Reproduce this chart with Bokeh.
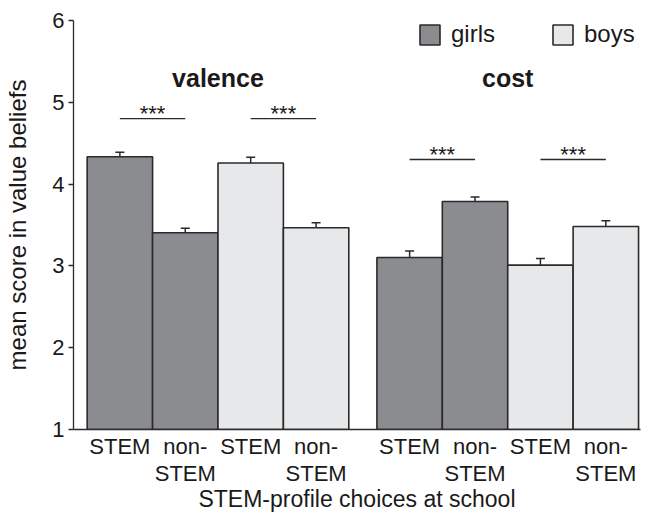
from bokeh.plotting import figure
from bokeh.models import (FixedTicker, Whisker, TeeHead, ColumnDataSource, Legend,
                          LegendItem, Range1d)
from bokeh.core.properties import value
from bokeh.embed import file_html
from bokeh.resources import INLINE

# ---------------- data ----------------
groups = ["valence", "cost"]
genders = ["girls", "boys"]
choices = ["STEM", "non-STEM"]
choice_tick_labels = ["STEM", "non-\nSTEM"]

girls_valence = [4.335, 3.405]
boys_valence = [4.258, 3.466]
girls_cost = [3.103, 3.788]
boys_cost = [3.010, 3.482]

girls_valence_err = [0.053, 0.055]
boys_valence_err = [0.069, 0.063]
girls_cost_err = [0.078, 0.055]
boys_cost_err = [0.080, 0.069]

sig_height = [4.80, 4.30]      # height of significance bracket in each group
sig_label = ["***", "***"]

y_ticks = [1, 2, 3, 4, 5, 6]
y_axis_label = "mean score in value beliefs"
x_axis_label = "STEM-profile choices at school"

# ---------------- layout constants ----------------
FONT = "Liberation Sans"
BAR_W = 1.0
GROUP_GAP = 0.43
TITLE_Y = 5.30
Y_MIN, Y_MAX = 1, 6
GIRLS_FILL = "#8b8c90"
BOYS_FILL = "#e7e8ea"
EDGE = "#2a2a2a"
TEXT = "#1a1a1a"

means = {("valence", "girls"): girls_valence, ("valence", "boys"): boys_valence,
         ("cost", "girls"): girls_cost, ("cost", "boys"): boys_cost}
errs = {("valence", "girls"): girls_valence_err, ("valence", "boys"): boys_valence_err,
        ("cost", "girls"): girls_cost_err, ("cost", "boys"): boys_cost_err}

per_group = len(genders) * len(choices)
src_data = {g: {"x": [], "top": [], "upper": [], "lower": []} for g in genders}
tick_pos, tick_lab = [], []
group_center = []
sig_x0, sig_x1, sig_y, sig_mid, sig_txt = [], [], [], [], []
for gi, grp in enumerate(groups):
    base = gi * (per_group * BAR_W + GROUP_GAP)
    group_center.append(base + per_group * BAR_W / 2)
    for si, sex in enumerate(genders):
        xs = []
        for ci, ch in enumerate(choices):
            x = round(base + (si * len(choices) + ci + 0.5) * BAR_W, 4)
            m = means[(grp, sex)][ci]
            e = errs[(grp, sex)][ci]
            d = src_data[sex]
            d["x"].append(x)
            d["top"].append(m)
            d["upper"].append(m + e)
            d["lower"].append(m - e)
            tick_pos.append(x)
            tick_lab.append(choice_tick_labels[ci])
            xs.append(x)
        sig_x0.append(xs[0]); sig_x1.append(xs[-1])
        sig_y.append(sig_height[gi]); sig_mid.append((xs[0] + xs[-1]) / 2)
        sig_txt.append(sig_label[gi])

x_end = len(groups) * per_group * BAR_W + (len(groups) - 1) * GROUP_GAP

p = figure(width=648, height=515, output_backend="svg", toolbar_location=None,
           x_range=Range1d(-0.209, x_end + 0.03), y_range=Range1d(Y_MIN, Y_MAX),
           min_border_left=73, min_border_right=8, min_border_top=20, min_border_bottom=86)
p.xgrid.visible = False
p.ygrid.visible = False
p.outline_line_color = None
p.background_fill_color = "white"

renderers = {}
for sex, fill in zip(genders, [GIRLS_FILL, BOYS_FILL]):
    src = ColumnDataSource(src_data[sex])
    r = p.vbar(x="x", top="top", bottom=Y_MIN, width=BAR_W, source=src,
               fill_color=fill, line_color=EDGE, line_width=1.6)
    renderers[sex] = r
    wk = Whisker(base="x", upper="upper", lower="lower", source=src, dimension="height",
                 line_color=EDGE, line_width=1.5,
                 upper_head=TeeHead(size=9, line_color=EDGE, line_width=1.5),
                 lower_head=TeeHead(size=9, line_color=EDGE, line_width=1.5))
    p.add_layout(wk)

# significance brackets
p.segment(x0=sig_x0, x1=sig_x1, y0=sig_y, y1=sig_y, line_color=EDGE, line_width=1.4)
p.text(x=sig_mid, y=sig_y, text=sig_txt, text_align="center", text_baseline="alphabetic",
       y_offset=-5, text_font=value(FONT), text_font_size="22px", text_color=TEXT)

# group titles
p.text(x=group_center, y=[TITLE_Y] * len(groups), text=groups, text_align="center",
       text_baseline="alphabetic", text_font=value(FONT), text_font_size="25px",
       text_font_style="bold", text_color=TEXT)

# axes
ya = p.yaxis[0]
ya.ticker = FixedTicker(ticks=y_ticks)
ya.minor_tick_line_color = None
ya.major_tick_out = 5
ya.major_tick_in = 0
ya.major_tick_line_color = EDGE
ya.major_tick_line_width = 1.3
ya.axis_line_color = EDGE
ya.axis_line_width = 1.3
ya.major_label_text_font = FONT
ya.major_label_text_font_size = "22px"
ya.major_label_text_color = TEXT
ya.major_label_standoff = 4
ya.axis_label = y_axis_label
ya.axis_label_text_font = FONT
ya.axis_label_text_font_size = "24px"
ya.axis_label_text_font_style = "normal"
ya.axis_label_text_color = TEXT
ya.axis_label_standoff = 18

xa = p.xaxis[0]
xa.ticker = FixedTicker(ticks=tick_pos)
xa.major_label_overrides = {t: l for t, l in zip(tick_pos, tick_lab)}
xa.minor_tick_line_color = None
xa.major_tick_line_color = None
xa.major_tick_out = 0
xa.major_tick_in = 0
xa.axis_line_color = EDGE
xa.axis_line_width = 1.3
xa.major_label_text_font = FONT
xa.major_label_text_font_size = "22px"
xa.major_label_text_color = TEXT
xa.major_label_text_line_height = 1.08
xa.major_label_standoff = 4
xa.axis_label = x_axis_label
xa.axis_label_text_font = FONT
xa.axis_label_text_font_size = "23px"
xa.axis_label_text_font_style = "normal"
xa.axis_label_text_color = TEXT
xa.axis_label_standoff = -3

legend = Legend(items=[LegendItem(label=s, renderers=[renderers[s]]) for s in genders],
                orientation="horizontal", location=(344, 381), margin=0, padding=0,
                spacing=55, label_standoff=9, glyph_width=25, glyph_height=25,
                label_height=25, border_line_color=None, background_fill_alpha=0,
                label_text_font=FONT, label_text_font_size="24px", label_text_color=TEXT)
p.add_layout(legend)

open("out.html", "w").write(file_html(p, INLINE))
